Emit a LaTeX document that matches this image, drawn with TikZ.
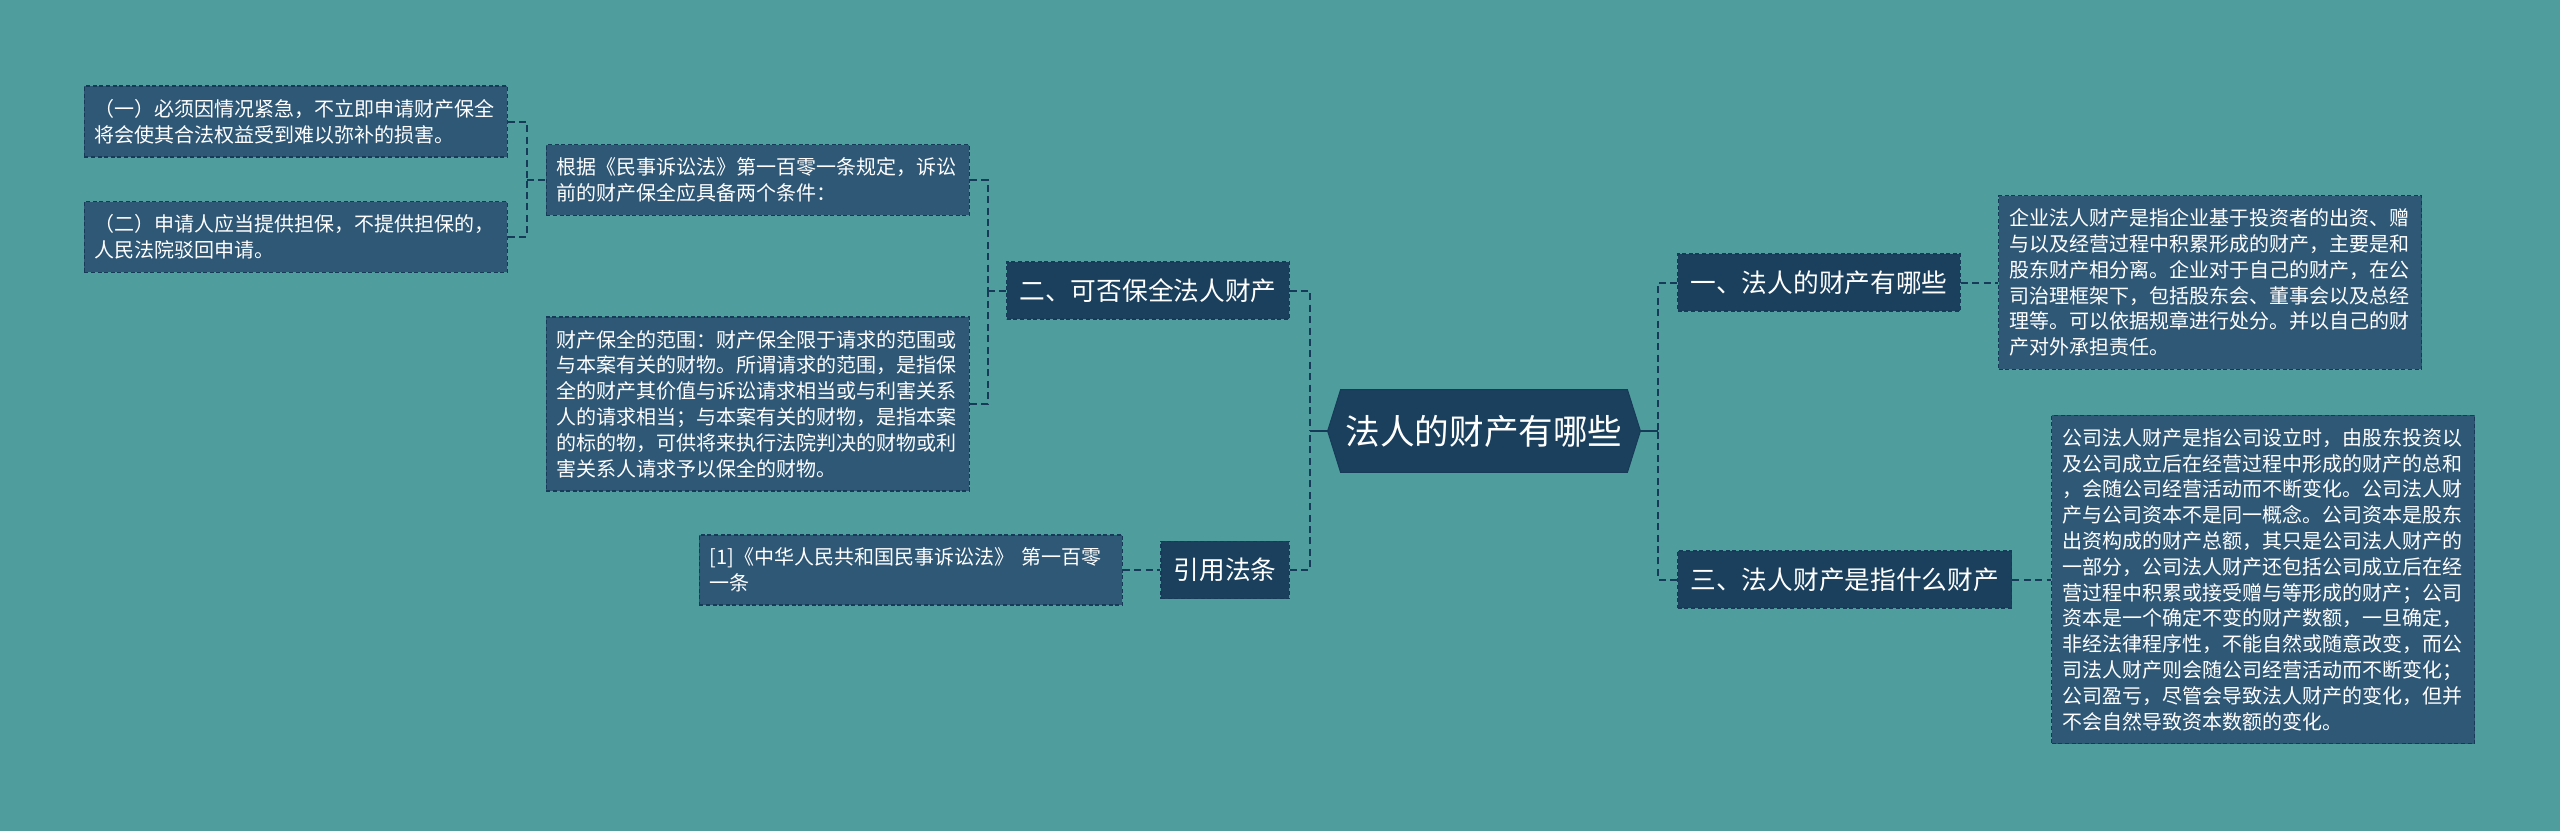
\documentclass[tikz,border=0pt]{standalone}
\usepackage{fontspec}
\setmainfont{Noto Sans CJK SC}
\definecolor{mapbg}{HTML}{509D9D}
\definecolor{mapbox}{HTML}{2F5877}
\definecolor{maphead}{HTML}{1A405E}
\definecolor{mapline}{HTML}{173A58}
\pgfdeclarelayer{backdrop}
\pgfsetlayers{backdrop,main}
\tikzset{
  textbox/.style = {draw = mapline, fill = mapbox, line width = 0.7pt, dash pattern = on 2pt off 1.3pt,
    text = white, align = left, text width = 201pt, inner xsep = 5.25pt, inner ysep = 6.5pt,
    font = {\fontsize{10pt}{12.9pt}\selectfont}},
  headbox/.style = {draw = mapline, fill = maphead, line width = 0.7pt, dash pattern = on 2pt off 1.3pt,
    text = white, inner xsep = 6.4pt, inner ysep = 8.3pt, font = {\fontsize{12.85pt}{15pt}\selectfont}},
  conn/.style = {draw = mapline, line width = 1pt, dash pattern = on 3.5pt off 2.2pt},
  stem/.style = {draw = mapline, line width = 1pt},
}

\begin{document}
\begin{tikzpicture}[x = 0.5pt, y = -0.5pt]%
    \begin{pgfonlayer}{backdrop}
      \fill[mapbg] (0, 0) rectangle (2560, 831);
    \end{pgfonlayer}
    \useasboundingbox (0, 0) rectangle (2560, 831);

    % root
    \node[minimum width = 156pt, minimum height = 41pt, inner sep = 0pt, text = white,
      font = {\fontsize{17.3pt}{20pt}\selectfont}] (root) at (1484, 431) {法人的财产有哪些};
    \begin{pgfonlayer}{backdrop}
      \filldraw[fill = maphead, draw = mapline, line width = 0.5pt] (root.west) -- ([xshift = 6.5pt]root.north west)
        -- ([xshift = -6.5pt]root.north east) -- (root.east) -- ([xshift = -6.5pt]root.south east)
        -- ([xshift = 6.5pt]root.south west) -- cycle;
    \end{pgfonlayer}

    % left branch
    \node[headbox, anchor = east] (er) at (1290, 290.5) {二、可否保全法人财产};
    \node[headbox, anchor = east] (yin) at (1290, 570) {引用法条};

    \node[textbox, anchor = east] (b1) at (970, 180)
      {根据《民事诉讼法》第一百零一条规定，诉讼\\前的财产保全应具备两个条件：};
    \node[textbox, anchor = east] (b2) at (970, 404)
      {财产保全的范围：财产保全限于请求的范围或\\与本案有关的财物。所谓请求的范围，是指保\\全的财产其价值与诉讼请求相当或与利害关系\\人的请求相当；与本案有关的财物，是指本案\\的标的物，可供将来执行法院判决的财物或利\\害关系人请求予以保全的财物。};
    \node[textbox, anchor = east] (a1) at (508, 121.5)
      {（一）必须因情况紧急，不立即申请财产保全\\将会使其合法权益受到难以弥补的损害。};
    \node[textbox, anchor = east] (a2) at (508, 237)
      {（二）申请人应当提供担保，不提供担保的，\\人民法院驳回申请。};
    \node[textbox, anchor = east] (c1) at (1123, 570)
      {[1]《中华人民共和国民事诉讼法》 第一百零\\一条};

    % right branch
    \node[headbox, anchor = west] (yi) at (1677, 282.5) {一、法人的财产有哪些};
    \node[headbox, anchor = west] (san) at (1677, 579.5) {三、法人财产是指什么财产};

    \node[textbox, anchor = west] (d1) at (1998, 282.5)
      {企业法人财产是指企业基于投资者的出资、赠\\与以及经营过程中积累形成的财产，主要是和\\股东财产相分离。企业对于自己的财产，在公\\司治理框架下，包括股东会、董事会以及总经\\理等。可以依据规章进行处分。并以自己的财\\产对外承担责任。};
    \node[textbox, anchor = west] (d2) at (2051, 579.5)
      {公司法人财产是指公司设立时，由股东投资以\\及公司成立后在经营过程中形成的财产的总和\\，会随公司经营活动而不断变化。公司法人财\\产与公司资本不是同一概念。公司资本是股东\\出资构成的财产总额，其只是公司法人财产的\\一部分，公司法人财产还包括公司成立后在经\\营过程中积累或接受赠与等形成的财产；公司\\资本是一个确定不变的财产数额，一旦确定，\\非经法律程序性，不能自然或随意改变，而公\\司法人财产则会随公司经营活动而不断变化；\\公司盈亏，尽管会导致法人财产的变化，但并\\不会自然导致资本数额的变化。};

    % connectors
    \coordinate (jl) at (1310, 431);
    \coordinate (jr) at (1658, 431);
    \coordinate (j2) at (988, 290.5);
    \coordinate (j1) at (527, 180);

    \draw[conn] (er.east) -| (jl);
    \draw[conn] (yin.east) -| (jl);
    \draw[stem] (jl) -- (root.west);
    \draw[conn] (yi.west) -| (jr);
    \draw[conn] (san.west) -| (jr);
    \draw[stem] (root.east) -- (jr);

    \draw[conn] (b1.east) -| (j2);
    \draw[conn] (b2.east) -| (j2);
    \draw[conn] (j2) -- (er.west);
    \draw[conn] (a1.east) -| (j1);
    \draw[conn] (a2.east) -| (j1);
    \draw[conn] (j1) -- (b1.west);

    \draw[conn] (c1.east) -- (yin.west);
    \draw[conn] (yi.east) -- (d1.west);
    \draw[conn] (san.east) -- (d2.west);
  \end{tikzpicture}
\end{document}
